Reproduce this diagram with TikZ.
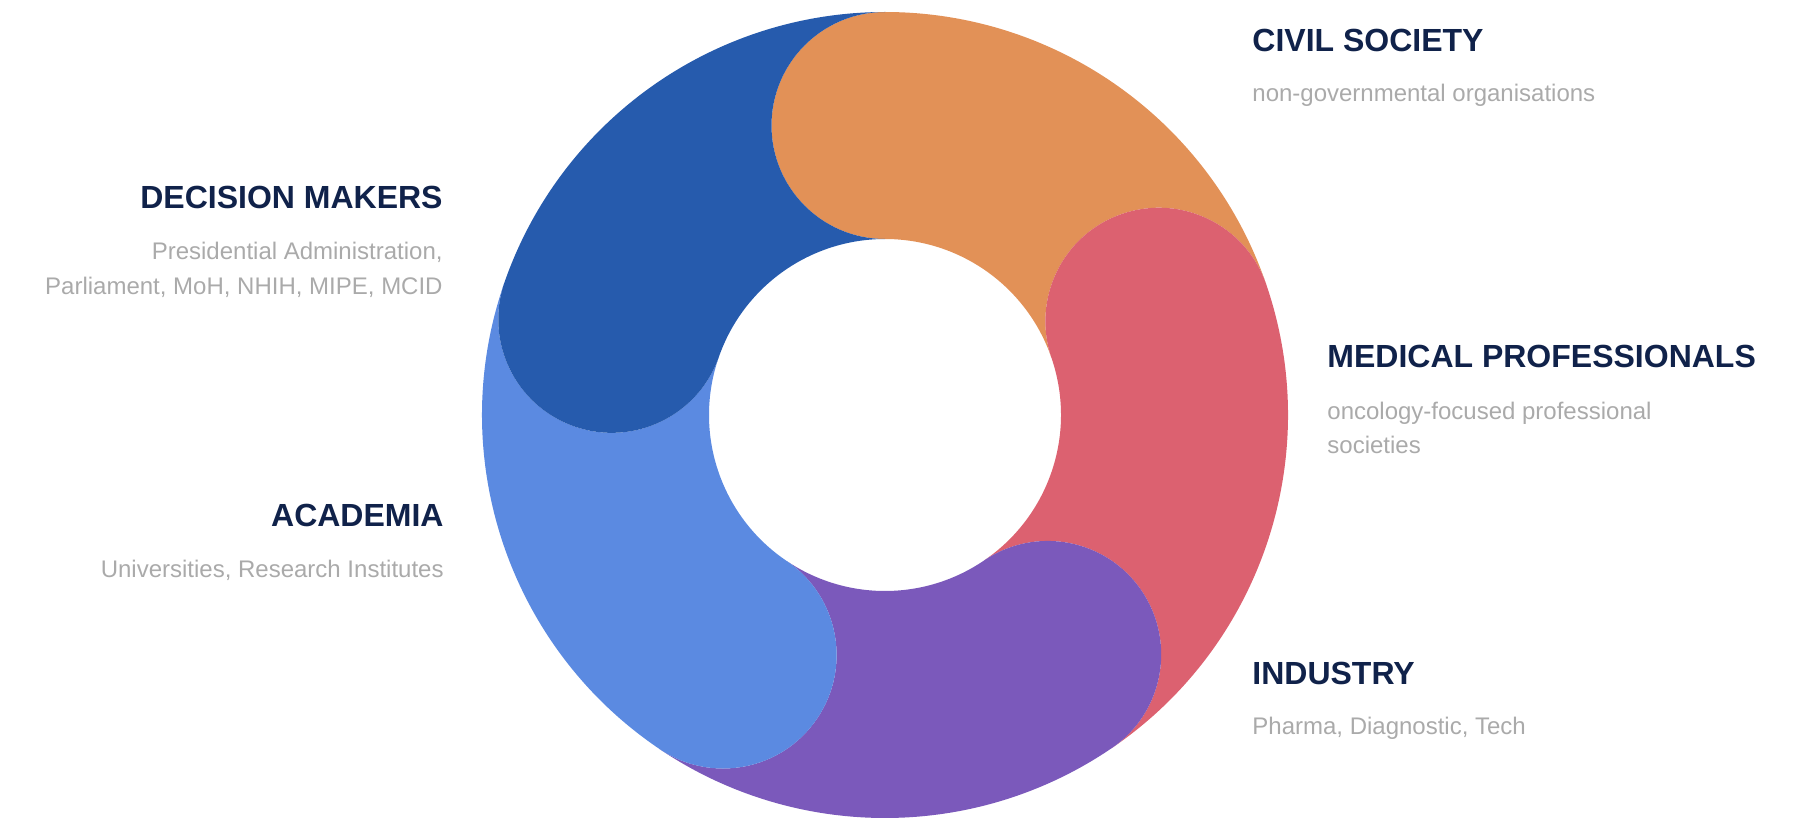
\documentclass[tikz,border=0pt]{standalone}
\usepackage{fontspec}
\setmainfont{Liberation Sans}
\definecolor{cOrange}{HTML}{E29157}
\definecolor{cRed}{HTML}{DC6170}
\definecolor{cPurple}{HTML}{7B59BB}
\definecolor{cLBlue}{HTML}{5B8AE1}
\definecolor{cDBlue}{HTML}{265BAD}
\definecolor{cNavy}{HTML}{10224A}
\definecolor{cGray}{HTML}{AAAAAA}
\tikzset{
  head/.style={inner sep=0pt, text=cNavy, font=\fontsize{16pt}{19pt}\selectfont\bfseries},
  sub/.style={inner sep=0pt, text=cGray, font=\fontsize{12pt}{17.5pt}\selectfont},
}
\newcommand{\ringseg}[3]{%
  \fill[#1] (#2:403) arc[start angle=#2, end angle=#3, radius=403]
    arc[start angle=#3, end angle=#3+180, radius=113.5]
    arc[start angle=#3, end angle=#2, radius=176]
    arc[start angle=#2+180, end angle=#2, radius=113.5] -- cycle;}
\begin{document}
\begin{tikzpicture}[x=0.5pt,y=0.5pt]
\useasboundingbox (0,0) rectangle (1812,821);
\begin{scope}[shift={(885,406)}]
  \ringseg{cOrange}{90}{18.9}
  \ringseg{cRed}{18.9}{-55.8}
  \ringseg{cPurple}{-55.8}{-124}
  \ringseg{cLBlue}{-124}{-199.3}
  \ringseg{cDBlue}{-199.3}{-270}
\end{scope}
\node[head, anchor=base west] (civ) at (1252,769) {CIVIL SOCIETY};
\node[sub, anchor=base west] (civs) at (1252,719) {non-governmental organisations};
\node[head, anchor=base east] (dec) at (443,612) {DECISION MAKERS};
\node[sub, anchor=base east, align=right] (decs) at (443,526) {Presidential Administration,\\Parliament, MoH, NHIH, MIPE, MCID};
\node[head, anchor=base west] (med) at (1327,453) {MEDICAL PROFESSIONALS};
\node[sub, anchor=base west, align=left] (meds) at (1327,367) {oncology-focused professional\\societies};
\node[head, anchor=base east] (aca) at (444,295) {ACADEMIA};
\node[sub, anchor=base east] (acas) at (444,244) {Universities, Research Institutes};
\node[head, anchor=base west] (ind) at (1252,137) {INDUSTRY};
\node[sub, anchor=base west] (inds) at (1252,87) {Pharma, Diagnostic, Tech};
\end{tikzpicture}
\end{document}
